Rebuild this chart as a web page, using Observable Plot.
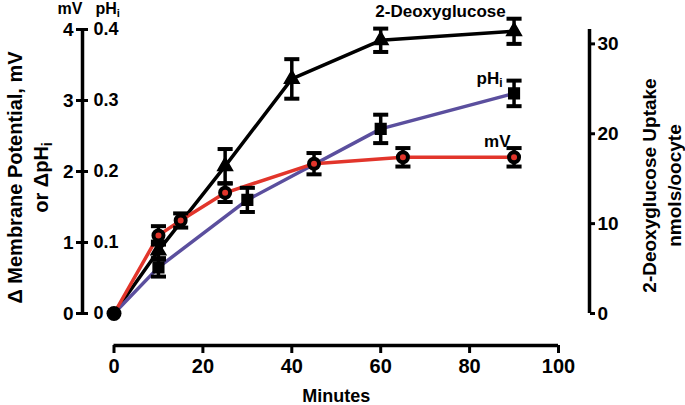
<!DOCTYPE html>
<html><head><meta charset="utf-8">
<script src="https://cdn.jsdelivr.net/npm/d3@7"></script>
<script src="https://cdn.jsdelivr.net/npm/@observablehq/plot@0.6"></script>
<style>body{margin:0;background:#fff;}</style>
</head><body><div id="chart"></div>
<script>
// Membrane potential (mV)
const mvTime  = [0, 10, 15, 25, 45, 65, 90];
const mvValue = [0, 1.10, 1.31, 1.70, 2.11, 2.20, 2.20];
const mvError = [0, 0.13, 0.10, 0.13, 0.15, 0.13, 0.13];
// Intracellular pH change
const phTime  = [0, 10, 30, 60, 90];
const phValue = [0, 0.065, 0.16, 0.26, 0.31];
const phError = [0, 0.013, 0.017, 0.02, 0.018];
// 2-Deoxyglucose uptake (nmols/oocyte)
const dgTime  = [0, 10, 25, 40, 60, 90];
const dgValue = [0, 7.0, 16.4, 26.1, 30.4, 31.4];
const dgError = [0, 1.0, 1.9, 2.2, 1.3, 1.4];

const xTicks = [0, 20, 40, 60, 80, 100];
const mvTicks = [0, 1, 2, 3, 4];
const phTickLabels = ["0", "0.1", "0.2", "0.3", "0.4"];
const dgTicks = [0, 10, 20, 30];
const mvMax = 4;
const dgMax = 31.6;

const xTitle = "Minutes";
const leftTitle = "Δ Membrane Potential, mV\nor ΔpH_i";
const rightTitle = "2-Deoxyglucose Uptake\nnmols/oocyte";
const seriesLabels = ["mV", "pH_i", "2-Deoxyglucose"];
const leftHeads = ["mV", "pH_i"];

const k = mvMax / dgMax;
const RED = "#e2352b", PURPLE = "#5b4f9e";
const mv = mvTime.map((t, i) => ({t, y: mvValue[i], e: mvError[i]}));
const ph = phTime.map((t, i) => ({t, y: phValue[i] * 10, e: phError[i] * 10}));
const dg = dgTime.map((t, i) => ({t, y: dgValue[i] * k, e: dgError[i] * k}));

const cap = {draw(ctx, size) { const w = Math.sqrt(size) / 2; ctx.moveTo(-w, 0); ctx.lineTo(w, 0); }};
function errMarks(data) {
  const d = data.filter(v => v.e > 0);
  return [
    Plot.ruleX(d, {x: "t", y1: v => v.y - v.e, y2: v => v.y + v.e, stroke: "black", strokeWidth: 3.5}),
    Plot.dot(d, {x: "t", y: v => v.y + v.e, symbol: cap, r: 8.5, stroke: "black", strokeWidth: 4, fill: "none"}),
    Plot.dot(d, {x: "t", y: v => v.y - v.e, symbol: cap, r: 8.5, stroke: "black", strokeWidth: 4, fill: "none"})
  ];
}

const chart = Plot.plot({
  width: 685, height: 405,
  marginLeft: 113.5, marginRight: 127, marginTop: 29, marginBottom: 92,
  x: {domain: [xTicks[0], xTicks[xTicks.length - 1]]},
  y: {domain: [mvTicks[0], mvMax]},
  style: {fontFamily: "'Liberation Sans', Arial, sans-serif", fontWeight: "bold", fontSize: "18px", background: "white", overflow: "visible"},
  marks: [
    // axes
    Plot.ruleY([mvTicks[0]], {x1: xTicks[0], x2: xTicks[xTicks.length - 1], dy: 32, strokeWidth: 3.5}),
    Plot.axisX(xTicks, {dy: 32, tickSize: 8, tickPadding: 5, strokeWidth: 3, fontSize: 20, label: null, tickFormat: d => String(d)}),
    Plot.text([xTitle], {frameAnchor: "bottom", lineAnchor: "middle", dy: 83, fontSize: 18}),
    Plot.ruleX([xTicks[0]], {y1: mvTicks[0], y2: mvMax, dx: -31.5, strokeWidth: 3.5}),
    Plot.axisY(mvTicks, {anchor: "left", dx: -25.5, tickSize: 12, tickPadding: 3, strokeWidth: 3, fontSize: 19, label: null, tickFormat: d => String(d)}),
    Plot.text(mvTicks, {y: d => d, text: (d, i) => phTickLabels[i], frameAnchor: "left", dx: -20.5, textAnchor: "start", fontSize: 18}),
    Plot.text([leftHeads[0]], {frameAnchor: "top-left", textAnchor: "middle", lineAnchor: "middle", dx: -44, dy: -20.5, fontSize: 16}),
    Plot.text([leftHeads[1]], {frameAnchor: "top-left", textAnchor: "start", lineAnchor: "middle", dx: -18.5, dy: -20.5, fontSize: 16}),
    Plot.text([leftTitle], {frameAnchor: "left", textAnchor: "middle", lineAnchor: "middle", rotate: -90, dx: -87.5, dy: 6, fontSize: 20, lineHeight: 1.3}),
    Plot.ruleX([xTicks[xTicks.length - 1]], {y1: 0, y2: dgMax * k, dx: 31, strokeWidth: 3.5}),
    Plot.axisY(dgTicks.map(v => v * k), {anchor: "right", dx: 31, tickSize: 5, tickPadding: 3, strokeWidth: 3, fontSize: 19, label: null, tickFormat: d => String(Math.round(d / k))}),
    Plot.text([rightTitle], {frameAnchor: "right", textAnchor: "middle", lineAnchor: "middle", rotate: -90, dx: 102, dy: 14, fontSize: 19, lineHeight: 1.3}),
    // lines
    Plot.line(dg, {x: "t", y: "y", stroke: "black", strokeWidth: 3.5}),
    Plot.line(ph, {x: "t", y: "y", stroke: PURPLE, strokeWidth: 3.5}),
    Plot.line(mv, {x: "t", y: "y", stroke: RED, strokeWidth: 3.5}),
    // error bars
    ...errMarks(dg), ...errMarks(ph), ...errMarks(mv),
    // markers
    Plot.dot(dg.filter(d => d.t > 0), {x: "t", y: "y", symbol: "triangle", r: 5.5, fill: "black", stroke: "black"}),
    Plot.dot(ph.filter(d => d.t > 0), {x: "t", y: "y", symbol: "square", r: 6, fill: "black", stroke: "black"}),
    Plot.dot(mv.filter(d => d.t > 0), {x: "t", y: "y", r: 5, fill: RED, stroke: "black", strokeWidth: 4}),
    Plot.dot(mv.filter(d => d.t === 0), {x: "t", y: "y", r: 7.5, fill: "black"}),
    // series labels
    Plot.text(mv.slice(-1), {x: "t", y: "y", text: () => seriesLabels[0], textAnchor: "end", dx: -3.5, dy: -16, fontSize: 17}),
    Plot.text(ph.slice(-1), {x: "t", y: "y", text: () => seriesLabels[1], textAnchor: "end", dx: -11.5, dy: -15, fontSize: 17}),
    Plot.text(dg.slice(-1), {x: "t", y: "y", text: () => seriesLabels[2], dx: -73.5, dy: -20, fontSize: 17})
  ]
});

// subscript "i" for pH_i
chart.querySelectorAll("text, tspan").forEach(el => {
  [...el.childNodes].forEach(node => {
    if (node.nodeType === 3 && node.nodeValue.includes("_i")) {
      const parts = node.nodeValue.split("_i");
      const frag = document.createDocumentFragment();
      frag.appendChild(document.createTextNode(parts[0]));
      const sub = document.createElementNS("http://www.w3.org/2000/svg", "tspan");
      sub.setAttribute("font-size", "70%");
      sub.setAttribute("dy", "0.3em");
      sub.textContent = "i";
      frag.appendChild(sub);
      if (parts[1]) {
        const rest = document.createElementNS("http://www.w3.org/2000/svg", "tspan");
        rest.setAttribute("dy", "-0.21em");
        rest.textContent = parts[1];
        frag.appendChild(rest);
      }
      el.replaceChild(frag, node);
    }
  });
});
document.getElementById("chart").appendChild(chart);
</script>
</body></html>
